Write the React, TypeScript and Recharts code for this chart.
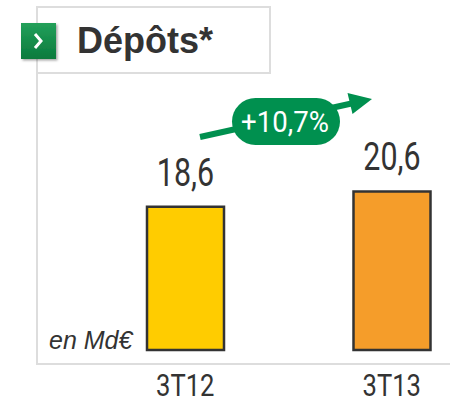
import { BarChart, Bar, XAxis, YAxis, Cell, LabelList } from 'recharts'

const periods = ['3T12', '3T13']
const depots = [18.6, 20.6]
const growthLabel = '+10,7%'
const unitLabel = 'en Md€'
const title = 'Dépôts*'

const BAR_COLORS = ['#FFCC00', '#F59D2A']
const COND = "Roboto, 'Noto Sans', sans-serif"
const ARIAL = "'Liberation Sans', Arial, sans-serif"

const data = periods.map((p, i) => ({ period: p, value: depots[i] }))

const fmt = (v: any) => String(v).replace('.', ',')

// Roboto squeezed horizontally to mimic the condensed face of the original
const PeriodTick = ({ x, y, payload }: any) => (
  <g transform={`translate(${x},${y})`}>
    <text transform="scale(0.8,1)" y={38} textAnchor="middle" fontFamily={COND} fontSize={32} fill="#333">
      {payload.value}
    </text>
  </g>
)

const ValueLabel = ({ x, y, width, value }: any) => {
  const cx = Number(x) + Number(width) / 2
  return (
    <g transform={`translate(${cx},${Number(y) - 21})`}>
      <text transform="scale(0.78,1)" textAnchor="middle" fontFamily={COND} fontSize={39} fill="#333">
        {fmt(value)}
      </text>
    </g>
  )
}

export default function App() {
  return (
    <div style={{ position: 'absolute', left: 0, top: 0, width: 450, height: 401, background: '#fff', overflow: 'hidden' }}>
      <BarChart
        width={450}
        height={401}
        data={data}
        margin={{ top: 119, right: -45, bottom: 21, left: 82 }}
      >
        <YAxis hide domain={[0, 30]} />
        <XAxis
          dataKey="period"
          height={30}
          axisLine={false}
          tickLine={false}
          tick={<PeriodTick />}
          interval={0}
        />
        <Bar dataKey="value" barSize={77} stroke="#333" strokeWidth={2.5} isAnimationActive={false}>
          {data.map((_, i) => (
            <Cell key={i} fill={BAR_COLORS[i % BAR_COLORS.length]} />
          ))}
          <LabelList dataKey="value" content={<ValueLabel />} />
        </Bar>
      </BarChart>

      {/* frame, title and growth arrow */}
      <svg width={450} height={401} style={{ position: 'absolute', left: 0, top: 0, pointerEvents: 'none' }}>
        <defs>
          <linearGradient id="ico" x1="0" y1="0" x2="0" y2="1">
            <stop offset="0%" stopColor="#22A05A" />
            <stop offset="100%" stopColor="#0B7A3D" />
          </linearGradient>
          <filter id="sh" x="-20%" y="-20%" width="150%" height="150%">
            <feDropShadow dx="1.5" dy="1.5" stdDeviation="1.2" floodColor="#000" floodOpacity="0.35" />
          </filter>
        </defs>
        <line x1={37} y1={7} x2={37} y2={364} stroke="#ddd" strokeWidth={2} />
        <line x1={36} y1={364} x2={450} y2={364} stroke="#ddd" strokeWidth={2} />
        <rect x={37} y={7} width={233} height={66} fill="#fff" stroke="#ddd" strokeWidth={2} />
        <rect x={21} y={23} width={35} height={36} fill="url(#ico)" filter="url(#sh)" />
        <path d="M35 34 L41 41 L35 48" fill="none" stroke="#fff" strokeWidth={3} />
        <text x={77} y={53} fontFamily={ARIAL} fontWeight="bold" fontSize={36} fill="#333">{title}</text>
        <text x={49} y={349} fontFamily={ARIAL} fontStyle="italic" fontSize={25} fill="#333">{unitLabel}</text>

        <line x1={200} y1={137} x2={356} y2={102.5} stroke="#00904F" strokeWidth={6} />
        <polygon points="372,99 352.5,114 347.5,93" fill="#00904F" />
        <rect x={232} y={98} width={108} height={47} rx={23.5} fill="#00904F" />
        <g transform="translate(285,132)">
          <text transform="scale(0.92,1)" textAnchor="middle" fontFamily={COND} fontSize={30} fill="#fff">{growthLabel}</text>
        </g>
      </svg>
    </div>
  )
}
